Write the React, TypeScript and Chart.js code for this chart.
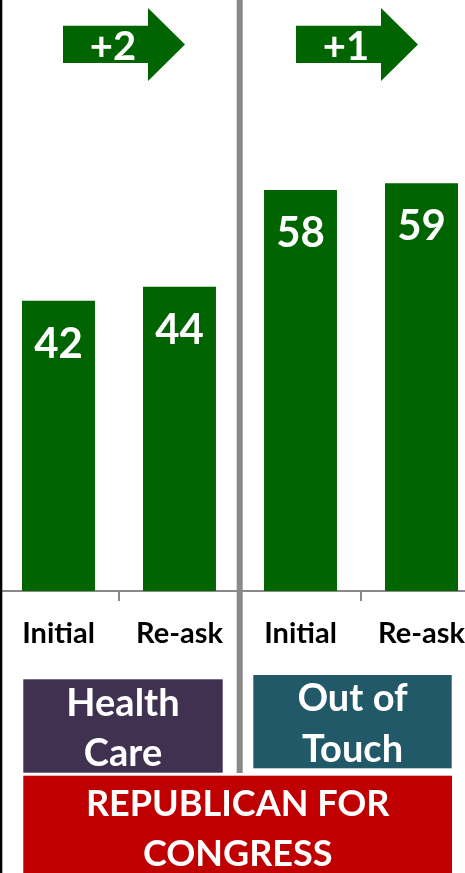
import React, { useEffect, useRef } from "react";
import { Chart, registerables } from "chart.js";

Chart.register(...registerables);

// ---- data ----
const categories = ["Initial", "Re-ask", "Initial", "Re-ask"];
const values = [42, 44, 58, 59];
const changeLabels = ["+2", "+1"];
const groupLabelLines = [
  ["Health", "Care"],
  ["Out of", "Touch"],
];
const footerLines = ["REPUBLICAN FOR", "CONGRESS"];
const yMax = 85.5;

// ---- styles / layout ----
const GREEN = "#006400";
const GRAY = "#898989";
const GROUP_COLORS = ["#403151", "#215968"];
const FOOTER_COLOR = "#C00000";
const FONT = "Lato";
const W = 465;
const H = 873;
const SHIFT = 2; // canvas is shifted 2px left of the page
const CW = 484;

// page-coordinate layout of annotations
const arrowLeft = [63, 296];
const groupBoxes = [
  { x: 23.3, y: 679.3, w: 199.4, h: 93.4, base: [716, 766], cx: 123 },
  { x: 253.3, y: 675, w: 198.4, h: 93.3, base: [711, 761.7], cx: 352.5 },
];
const footerBox = { x: 23.3, y: 775.7, w: 428.7, h: 110, base: [815.7, 866], cx: 237.7 };

const overlayPlugin = {
  id: "overlay",
  afterDatasetsDraw(chart: any) {
    const ctx = chart.ctx;
    const meta = chart.getDatasetMeta(0);
    ctx.save();
    ctx.fillStyle = "#ffffff";
    ctx.font = `bold 42px ${FONT}`;
    ctx.textAlign = "center";
    ctx.textBaseline = "alphabetic";
    meta.data.forEach((bar: any, i: number) => {
      ctx.fillText(String(values[i]), bar.x, bar.y + 57);
    });
    ctx.restore();
  },
  afterDraw(chart: any) {
    const ctx = chart.ctx;
    const xs = chart.scales.x;
    ctx.save();
    // left black rule
    ctx.fillStyle = "#000000";
    ctx.fillRect(SHIFT, 0, 2.3, H);
    // divider between the two groups
    const b = (xs.getPixelForValue(1) + xs.getPixelForValue(2)) / 2;
    ctx.fillStyle = GRAY;
    ctx.fillRect(b - 3.3, 0, 6, 773);

    // arrows
    changeLabels.forEach((lab, i) => {
      const x0 = arrowLeft[i] + SHIFT;
      ctx.fillStyle = GREEN;
      ctx.beginPath();
      ctx.moveTo(x0, 25.7);
      ctx.lineTo(x0 + 85, 25.7);
      ctx.lineTo(x0 + 85, 8);
      ctx.lineTo(x0 + 122, 44.5);
      ctx.lineTo(x0 + 85, 81);
      ctx.lineTo(x0 + 85, 63);
      ctx.lineTo(x0, 63);
      ctx.closePath();
      ctx.fill();
      ctx.fillStyle = "#ffffff";
      ctx.font = `bold 40px ${FONT}`;
      ctx.textAlign = "center";
      ctx.textBaseline = "alphabetic";
      ctx.fillText(lab, x0 + 50, 60);
    });

    // group boxes
    groupBoxes.forEach((bx, i) => {
      ctx.fillStyle = GROUP_COLORS[i];
      ctx.fillRect(bx.x + SHIFT, bx.y, bx.w, bx.h);
      ctx.fillStyle = "#ffffff";
      ctx.font = `bold 38px ${FONT}`;
      ctx.textAlign = "center";
      ctx.textBaseline = "alphabetic";
      groupLabelLines[i].forEach((ln, j) => {
        ctx.fillText(ln, bx.cx + SHIFT, bx.base[j]);
      });
    });

    // footer box
    ctx.fillStyle = FOOTER_COLOR;
    ctx.fillRect(footerBox.x + SHIFT, footerBox.y, footerBox.w, footerBox.h);
    ctx.fillStyle = "#ffffff";
    ctx.font = `bold 36px ${FONT}`;
    ctx.textAlign = "center";
    footerLines.forEach((ln, j) => {
      ctx.fillText(ln, footerBox.cx + SHIFT, footerBox.base[j]);
    });
    ctx.restore();
  },
};

export default function App() {
  const ref = useRef<HTMLCanvasElement | null>(null);

  useEffect(() => {
    let chart: Chart | null = null;
    let cancelled = false;
    const make = () => {
      if (cancelled || !ref.current) return;
      chart = new Chart(ref.current, {
        type: "bar",
        data: {
          labels: categories,
          datasets: [
            {
              data: values,
              backgroundColor: GREEN,
              borderWidth: 0,
              barPercentage: 0.603,
              categoryPercentage: 1,
            },
          ],
        },
        options: {
          animation: false,
          responsive: false,
          layout: { padding: 0 },
          plugins: { legend: { display: false }, tooltip: { enabled: false } },
          scales: {
            x: {
              offset: true,
              grid: {
                display: true,
                offset: true,
                drawOnChartArea: false,
                drawTicks: true,
                tickLength: 10,
                color: GRAY,
                lineWidth: 2,
              },
              border: { display: true, color: GRAY, width: 2 },
              ticks: {
                color: "#000000",
                font: { family: FONT, weight: "bold", size: 29 },
                padding: 15,
                maxRotation: 0,
                autoSkip: false,
              },
              afterFit: (s: any) => {
                s.height = H - 591;
              },
            },
            y: { display: false, min: 0, max: yMax },
          },
        },
        plugins: [overlayPlugin],
      });
    };
    const fontsReady = (document as any).fonts
      ? Promise.all([
          (document as any).fonts.load(`bold 42px ${FONT}`),
          (document as any).fonts.load(`bold 29px ${FONT}`),
        ]).catch(() => null)
      : Promise.resolve();
    fontsReady.then(make);
    return () => {
      cancelled = true;
      if (chart) chart.destroy();
    };
  }, []);

  return (
    <div
      style={{
        position: "absolute",
        left: 0,
        top: 0,
        width: W,
        height: H,
        overflow: "hidden",
        background: "#ffffff",
      }}
    >
      <canvas
        ref={ref}
        width={CW}
        height={H}
        style={{ position: "absolute", left: -SHIFT, top: 0, display: "block" }}
      />
    </div>
  );
}
